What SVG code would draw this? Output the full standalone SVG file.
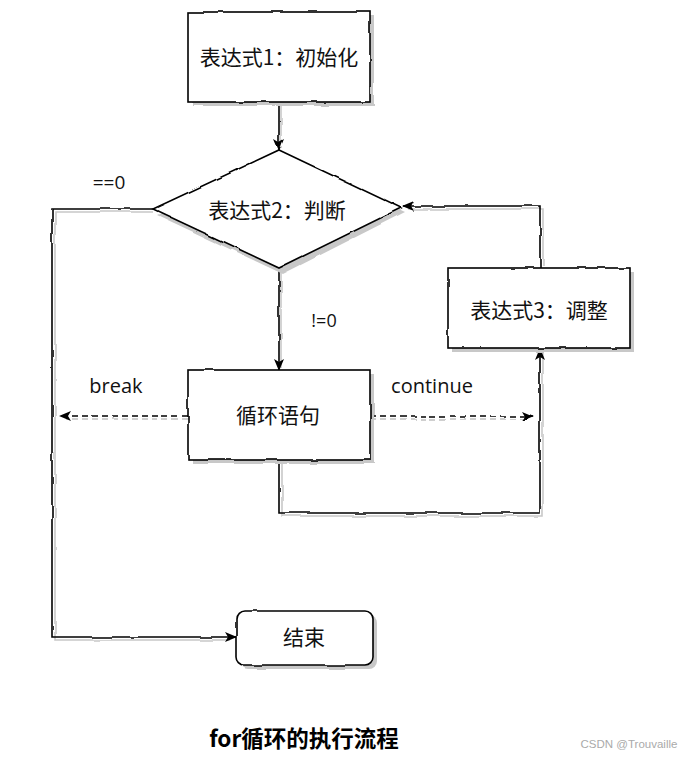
<svg xmlns="http://www.w3.org/2000/svg" width="694" height="757" viewBox="0 0 694 757">
<style>
.box{fill:#fff;stroke:#000;stroke-width:1.6}
.sh{fill:#c8c8c8;stroke:none}
.ln{fill:none;stroke:#000;stroke-width:1.6}
.lsh{fill:none;stroke:#c8c8c8;stroke-width:1.6}
.dash{fill:none;stroke:#000;stroke-width:1.5;stroke-dasharray:6 4}
.dsh{fill:none;stroke:#c0c0c0;stroke-width:1.5;stroke-dasharray:6 4}
.t{font-family:"Noto Sans CJK SC","Noto Sans",sans-serif;font-size:21px;fill:#111;text-anchor:middle}
.lb{font-family:"Open Sans","Noto Sans",sans-serif;fill:#111;text-anchor:middle}
</style>
<defs>
<marker id="ah" viewBox="0 0 12 10" refX="11" refY="5" markerWidth="12" markerHeight="10" markerUnits="userSpaceOnUse" orient="auto">
<path d="M0,0 L12,5 L0,10 L3,5 z" fill="#000"/>
</marker>
<filter id="rough" x="-5%" y="-5%" width="110%" height="110%">
<feTurbulence type="fractalNoise" baseFrequency="0.04" numOctaves="2" seed="3" result="n"/>
<feDisplacementMap in="SourceGraphic" in2="n" scale="3" xChannelSelector="R" yChannelSelector="G"/>
</filter>
</defs>
<rect width="694" height="757" fill="#fff"/>

<g id="connectors">
<g filter="url(#rough)">
<path class="lsh" d="M281,104 L281,148"/>
<path class="lsh" d="M153,212 L55,212 L55,640 L230,640"/>
<path class="lsh" d="M281,270 L281,368"/>
<path class="lsh" d="M282,462 L282,516 L543,516 L543,352"/>
<path class="lsh" d="M543,266 L543,209 L408,209"/>
<path class="dsh" d="M188,419 L66,419"/>
<path class="dsh" d="M370,419 L526,419"/>
<path class="ln" d="M279,102 L279,150" marker-end="url(#ah)"/>
<path class="ln" d="M153,209 L52,209 L52,637 L236,637" marker-end="url(#ah)"/>
<path class="ln" d="M279,268 L279,370" marker-end="url(#ah)"/>
<path class="ln" d="M279,460 L279,513 L540,513 L540,348" marker-end="url(#ah)"/>
<path class="ln" d="M540,268 L540,206 L403,206" marker-end="url(#ah)"/>
<path class="dash" d="M188,416 L60,416" marker-end="url(#ah)"/>
<path class="dash" d="M370,416 L533,416" marker-end="url(#ah)"/>
</g>
<text class="lb" x="109" y="189" font-size="19">==0</text>
<text class="lb" x="324" y="327" font-size="18">!=0</text>
<text class="lb" x="116" y="393" font-size="20">break</text>
<text class="lb" x="432" y="393" font-size="20">continue</text>
</g>

<g id="init">
<g filter="url(#rough)">
<rect class="sh" x="192" y="16" width="182" height="90"/>
<rect class="box" x="188" y="12" width="182" height="90"/>
</g>
<text class="t" x="279" y="65">表达式1：初始化</text>
</g>

<g id="cond">
<g filter="url(#rough)">
<path class="sh" d="M283,154 L405,212 L283,274 L157,215 z"/>
<path class="box" d="M279,150 L401,208 L279,268 L153,209 z"/>
</g>
<text class="t" x="277" y="218">表达式2：判断</text>
</g>

<g id="body">
<g filter="url(#rough)">
<rect class="sh" x="192" y="374" width="182" height="90"/>
<rect class="box" x="188" y="370" width="182" height="90"/>
</g>
<text class="t" x="278" y="423">循环语句</text>
</g>

<g id="update">
<g filter="url(#rough)">
<rect class="sh" x="452" y="272" width="182" height="80"/>
<rect class="box" x="448" y="268" width="182" height="80"/>
</g>
<text class="t" x="539" y="318">表达式3：调整</text>
</g>

<g id="end">
<g filter="url(#rough)">
<rect class="sh" x="240" y="615" width="137" height="54" rx="8"/>
<rect class="box" x="236" y="611" width="137" height="54" rx="8"/>
</g>
<text class="t" x="304" y="645">结束</text>
</g>

<text x="304" y="747" font-family="&quot;Noto Sans CJK SC&quot;,&quot;Noto Sans&quot;,sans-serif" font-size="22.5" font-weight="bold" fill="#000" text-anchor="middle">for循环的执行流程</text>
<text x="629" y="748" font-family="&quot;Liberation Sans&quot;,sans-serif" font-size="11.5" fill="#aaa" text-anchor="middle">CSDN @Trouvaille</text>
</svg>
